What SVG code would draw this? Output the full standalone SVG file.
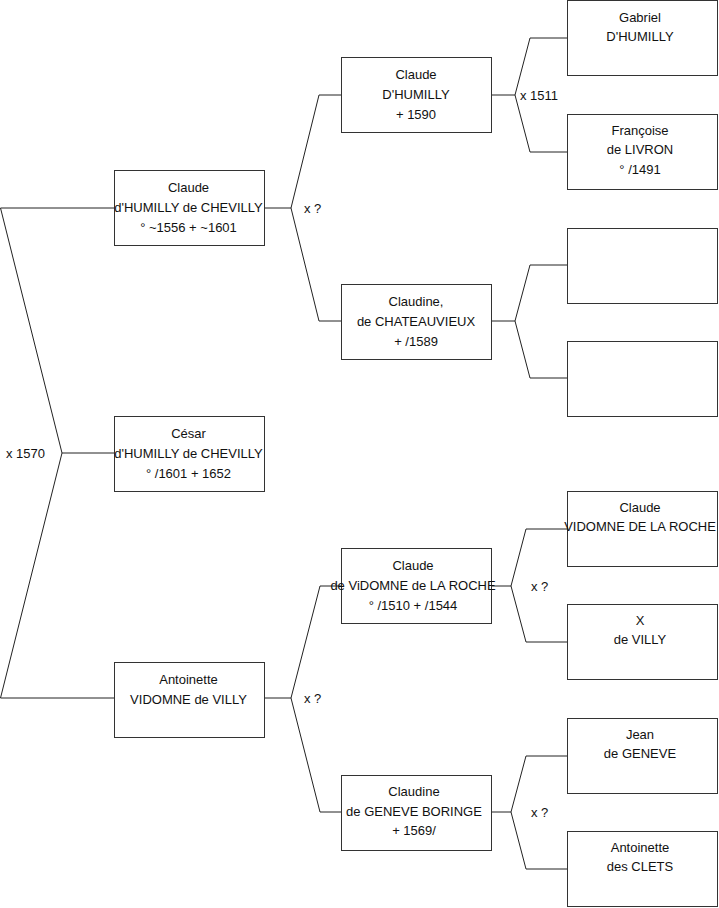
<svg xmlns="http://www.w3.org/2000/svg" width="719" height="908" viewBox="0 0 719 908">
<style>
.box{fill:#fff;stroke:#333;stroke-width:1}
.c{fill:none;stroke:#222;stroke-width:1}
text{font-family:"Liberation Sans",Arial,sans-serif;font-size:13px;fill:#111}
.m{text-anchor:middle}
</style>
<rect width="719" height="908" fill="#fff"/>
<g id="connectors">
<polyline class="c" points="114,208 0.5,208 62,453 0.5,698 114,698"/>
<line class="c" x1="62" y1="453" x2="114" y2="453"/>
<polyline class="c" points="341,95 319,95 291,208 319,321 341,321"/>
<line class="c" x1="265" y1="208" x2="291" y2="208"/>
<polyline class="c" points="341,586 320,586 291,698 320,812 341,812"/>
<line class="c" x1="265" y1="698" x2="291" y2="698"/>
<polyline class="c" points="567,38 530,38 515,95 530,152 567,152"/>
<line class="c" x1="492" y1="95" x2="515" y2="95"/>
<polyline class="c" points="567,265 530,265 515,321 530,378 567,378"/>
<line class="c" x1="492" y1="321" x2="515" y2="321"/>
<polyline class="c" points="567,529 526,529 511,586 526,642 567,642"/>
<line class="c" x1="492" y1="586" x2="511" y2="586"/>
<polyline class="c" points="567,756 526,756 511,812 526,869 567,869"/>
<line class="c" x1="492" y1="812" x2="511" y2="812"/>
<text x="6" y="457.5">x 1570</text>
<text x="304" y="212.5">x ?</text>
<text x="304" y="702.5">x ?</text>
<text x="520" y="99.5">x 1511</text>
<text x="531" y="590.5">x ?</text>
<text x="531" y="816.5">x ?</text>
</g>
<g id="n1">
<rect class="box" x="114.5" y="170.5" width="150" height="75"/>
<text class="m" x="188.5" y="191.5">Claude</text>
<text class="m" x="188.5" y="211.5">d'HUMILLY de CHEVILLY</text>
<text class="m" x="188.5" y="231.5">° ~1556 + ~1601</text>
</g>
<g id="n2">
<rect class="box" x="114.5" y="416.5" width="150" height="75"/>
<text class="m" x="188.5" y="437.5">César</text>
<text class="m" x="188.5" y="457.5">d'HUMILLY de CHEVILLY</text>
<text class="m" x="188.5" y="477.5">° /1601 + 1652</text>
</g>
<g id="n3">
<rect class="box" x="114.5" y="662.5" width="150" height="75"/>
<text class="m" x="188.5" y="683.5">Antoinette</text>
<text class="m" x="188.5" y="703.5">VIDOMNE de VILLY</text>
</g>
<g id="n4">
<rect class="box" x="341.5" y="57.5" width="150" height="75"/>
<text class="m" x="416" y="78.5">Claude</text>
<text class="m" x="416" y="98.5">D'HUMILLY</text>
<text class="m" x="416" y="118.5">+ 1590</text>
</g>
<g id="n5">
<rect class="box" x="341.5" y="284.5" width="150" height="75"/>
<text class="m" x="416" y="305.5">Claudine,</text>
<text class="m" x="416" y="325.5">de CHATEAUVIEUX</text>
<text class="m" x="416" y="345.5">+ /1589</text>
</g>
<g id="n6">
<rect class="box" x="341.5" y="548.5" width="150" height="75"/>
<text class="m" x="413" y="569.5">Claude</text>
<text class="m" x="413" y="589.5">de ViDOMNE de LA ROCHE</text>
<text class="m" x="413" y="609.5">° /1510 + /1544</text>
</g>
<g id="n7">
<rect class="box" x="341.5" y="775.5" width="150" height="75"/>
<text class="m" x="414" y="796">Claudine</text>
<text class="m" x="414" y="815.5">de GENEVE BORINGE</text>
<text class="m" x="414" y="835">+ 1569/</text>
</g>
<g id="n8">
<rect class="box" x="567.5" y="0.5" width="150" height="75"/>
<text class="m" x="640" y="21.5">Gabriel</text>
<text class="m" x="640" y="41">D'HUMILLY</text>
</g>
<g id="n9">
<rect class="box" x="567.5" y="114.5" width="150" height="75"/>
<text class="m" x="640" y="134.5">Françoise</text>
<text class="m" x="640" y="154">de LIVRON</text>
<text class="m" x="640" y="173.5">° /1491</text>
</g>
<g id="n10">
<rect class="box" x="567.5" y="228.5" width="150" height="75"/>
</g>
<g id="n11">
<rect class="box" x="567.5" y="341.5" width="150" height="75"/>
</g>
<g id="n12">
<rect class="box" x="567.5" y="491.5" width="150" height="75"/>
<text class="m" x="640" y="511.5">Claude</text>
<text class="m" x="640" y="531">VIDOMNE DE LA ROCHE</text>
</g>
<g id="n13">
<rect class="box" x="567.5" y="604.5" width="150" height="75"/>
<text class="m" x="640" y="624.5">X</text>
<text class="m" x="640" y="644">de VILLY</text>
</g>
<g id="n14">
<rect class="box" x="567.5" y="718.5" width="150" height="75"/>
<text class="m" x="640" y="738.5">Jean</text>
<text class="m" x="640" y="758">de GENEVE</text>
</g>
<g id="n15">
<rect class="box" x="567.5" y="831.5" width="150" height="75"/>
<text class="m" x="640" y="851.5">Antoinette</text>
<text class="m" x="640" y="871">des CLETS</text>
</g>
</svg>
